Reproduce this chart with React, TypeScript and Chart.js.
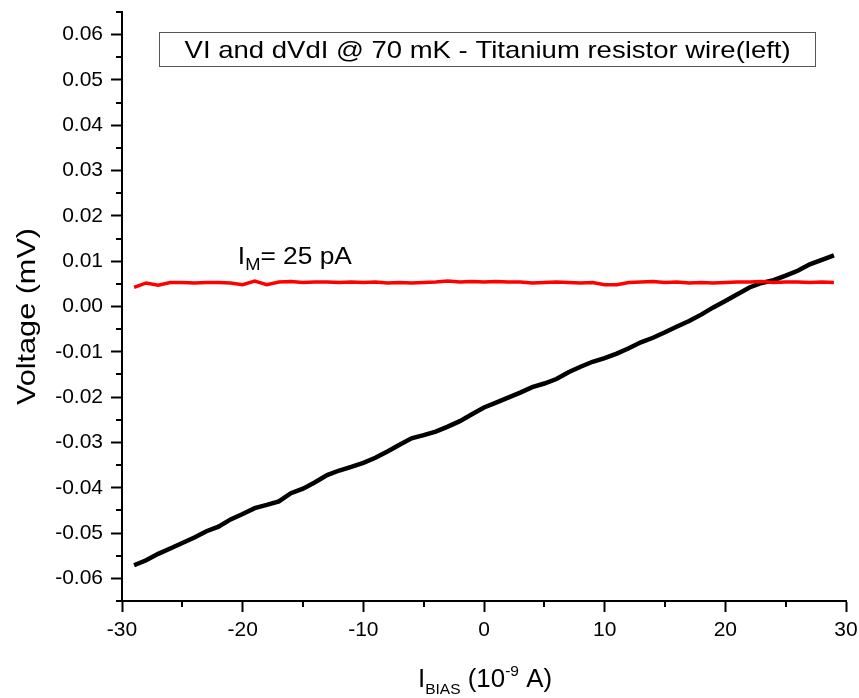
import React, { useEffect, useRef } from "react";
import { Chart, registerables } from "chart.js";

Chart.register(...registerables);

const biasCurrent = [
  -29, -28, -27, -26, -25, -24, -23, -22, -21, -20,
  -19, -18, -17, -16, -15, -14, -13, -12, -11, -10,
  -9, -8, -7, -6, -5, -4, -3, -2, -1, 0,
  1, 2, 3, 4, 5, 6, 7, 8, 9, 10,
  11, 12, 13, 14, 15, 16, 17, 18, 19, 20,
  21, 22, 23, 24, 25, 26, 27, 28, 29,
];

const viVoltage = [
  -0.0571, -0.056, -0.0546, -0.0534, -0.0522, -0.051, -0.0496, -0.0486, -0.047, -0.0458,
  -0.0445, -0.0438, -0.043, -0.0412, -0.0402, -0.0388, -0.0372, -0.0362, -0.0354, -0.0345,
  -0.0334, -0.032, -0.0305, -0.0291, -0.0284, -0.0276, -0.0265, -0.0253, -0.0238, -0.0223,
  -0.0212, -0.0201, -0.019, -0.0178, -0.017, -0.016, -0.0145, -0.0133, -0.0122, -0.0114,
  -0.0104, -0.0092, -0.0079, -0.0069, -0.0057, -0.0044, -0.0032, -0.0018, -0.0002, 0.0012,
  0.0027, 0.0042, 0.0052, 0.0058, 0.0068, 0.0079, 0.0093, 0.0103, 0.0113,
];

const dvdiVoltage = [
  0.0042, 0.0052, 0.0047, 0.0053, 0.0053, 0.0052, 0.0053, 0.0053, 0.0052, 0.0048,
  0.0056, 0.0048, 0.0054, 0.0055, 0.0053, 0.0054, 0.0054, 0.0053, 0.0054, 0.0053,
  0.0054, 0.0052, 0.0053, 0.0052, 0.0053, 0.0054, 0.0056, 0.0054, 0.0055, 0.0054,
  0.0055, 0.0054, 0.0054, 0.0052, 0.0053, 0.0054, 0.0053, 0.0052, 0.0053, 0.0048,
  0.0048, 0.0053, 0.0054, 0.0055, 0.0053, 0.0054, 0.0052, 0.0053, 0.0052, 0.0053,
  0.0054, 0.0054, 0.0055, 0.0053, 0.0054, 0.0054, 0.0053, 0.0054, 0.0053,
];

const xMajorTicks = [-30, -20, -10, 0, 10, 20, 30];
const xMinorTicks = [-25, -15, -5, 5, 15, 25];
const yMajorTicks = [-0.06, -0.05, -0.04, -0.03, -0.02, -0.01, 0, 0.01, 0.02, 0.03, 0.04, 0.05, 0.06];
const yMinorTicks = [-0.065, -0.055, -0.045, -0.035, -0.025, -0.015, -0.005, 0.005, 0.015, 0.025, 0.035, 0.045, 0.055, 0.065];

const titleText = "VI and dVdI @ 70 mK - Titanium resistor wire(left)";
const FONT = "'Liberation Sans', Arial, sans-serif";

type Part = [string, number, number];

function drawRich(ctx: CanvasRenderingContext2D, parts: Part[], x: number, y: number, targetWidth: number) {
  let total = 0;
  parts.forEach(([t, s]) => {
    ctx.font = `${s}px ${FONT}`;
    total += ctx.measureText(t).width;
  });
  const k = targetWidth / total;
  ctx.save();
  ctx.translate(x, y);
  ctx.scale(k, 1);
  ctx.textAlign = "left";
  ctx.textBaseline = "alphabetic";
  let cx = 0;
  parts.forEach(([t, s, dy]) => {
    ctx.font = `${s}px ${FONT}`;
    ctx.fillText(t, cx, dy);
    cx += ctx.measureText(t).width;
  });
  ctx.restore();
}

const overlayPlugin = {
  id: "overlay",
  afterDraw(chart: any) {
    const ctx = chart.ctx as CanvasRenderingContext2D;
    const xs = chart.scales.x;
    const ys = chart.scales.y;
    const area = chart.chartArea;
    ctx.save();
    // minor ticks
    ctx.strokeStyle = "#000";
    ctx.lineWidth = 2;
    ctx.beginPath();
    xMinorTicks.forEach((v) => {
      const px = Math.round(xs.getPixelForValue(v));
      ctx.moveTo(px, area.bottom);
      ctx.lineTo(px, area.bottom + 6);
    });
    yMinorTicks.forEach((v) => {
      const py = Math.round(ys.getPixelForValue(v));
      ctx.moveTo(area.left, py);
      ctx.lineTo(area.left - 6, py);
    });
    ctx.stroke();

    // title box
    const bx0 = xs.getPixelForValue(-26.9);
    const bx1 = xs.getPixelForValue(27.5);
    const by0 = ys.getPixelForValue(0.0605);
    const by1 = ys.getPixelForValue(0.0530);
    ctx.lineWidth = 1;
    ctx.strokeStyle = "#555";
    ctx.strokeRect(Math.round(bx0) + 0.5, Math.round(by0) + 0.5, Math.round(bx1 - bx0), Math.round(by1 - by0));
    ctx.fillStyle = "#000";
    const cxTitle = (bx0 + bx1) / 2;
    drawRich(ctx, [[titleText, 24, 0]], cxTitle - 303, (by0 + by1) / 2 + 9, 606);

    // annotation I_M = 25 pA
    const ax = xs.getPixelForValue(-20.4);
    const ay = ys.getPixelForValue(0.0093);
    drawRich(
      ctx,
      [
        ["I", 23, 0],
        ["M", 16, 6],
        ["= 25 pA", 23, 0],
      ],
      ax,
      ay,
      114
    );

    // y-axis title
    ctx.save();
    ctx.translate(35, 0);
    ctx.rotate(-Math.PI / 2);
    drawRich(ctx, [["Voltage (mV)", 25, 0]], -405, 0, 177);
    ctx.restore();

    // x-axis title I_BIAS (10^-9 A)
    drawRich(
      ctx,
      [
        ["I", 25, 0],
        ["BIAS", 15, 7],
        [" (10", 25, 0],
        ["-9", 15, -11],
        [" A)", 25, 0],
      ],
      418,
      687,
      134
    );
    ctx.restore();
  },
};

export default function App() {
  const canvasRef = useRef<HTMLCanvasElement | null>(null);

  useEffect(() => {
    document.body.style.margin = "0";
    const canvas = canvasRef.current;
    if (!canvas) return;
    const viData = biasCurrent.map((x, i) => ({ x, y: viVoltage[i] }));
    const dvdiData = biasCurrent.map((x, i) => ({ x, y: dvdiVoltage[i] }));

    const chart = new Chart(canvas, {
      type: "scatter",
      data: {
        datasets: [
          {
            label: "dV/dI",
            data: dvdiData,
            showLine: true,
            borderColor: "#ff0000",
            backgroundColor: "#ff0000",
            borderWidth: 3.5,
            pointRadius: 0,
            tension: 0,
          },
          {
            label: "VI",
            data: viData,
            showLine: true,
            borderColor: "#000000",
            backgroundColor: "#000000",
            borderWidth: 4.5,
            pointRadius: 0,
            tension: 0,
          },
        ],
      },
      options: {
        responsive: false,
        animation: false,
        devicePixelRatio: 1,
        layout: { padding: { top: 12, right: 13, left: 0, bottom: 0 } },
        plugins: {
          legend: { display: false },
          tooltip: { enabled: false },
          title: { display: false },
        },
        scales: {
          x: {
            type: "linear",
            min: -30,
            max: 30,
            afterBuildTicks: (axis: any) => {
              axis.ticks = xMajorTicks.map((v) => ({ value: v }));
            },
            afterFit: (axis: any) => {
              axis.height = 97;
              axis.paddingLeft = 0;
              axis.paddingRight = 0;
            },
            grid: {
              drawOnChartArea: false,
              drawTicks: true,
              tickLength: 11,
              tickWidth: 2,
              tickColor: "#000",
            },
            border: { display: true, color: "#000", width: 2 },
            ticks: {
              color: "#000",
              font: { family: FONT, size: 21 },
              padding: 6,
              maxRotation: 0,
              callback: (v: any) => String(v),
            },
          },
          y: {
            type: "linear",
            min: -0.065,
            max: 0.065,
            afterBuildTicks: (axis: any) => {
              axis.ticks = yMajorTicks.map((v) => ({ value: v }));
            },
            afterFit: (axis: any) => {
              axis.width = 122;
              axis.paddingTop = 0;
              axis.paddingBottom = 0;
            },
            grid: {
              drawOnChartArea: false,
              drawTicks: true,
              tickLength: 11,
              tickWidth: 2,
              tickColor: "#000",
            },
            border: { display: true, color: "#000", width: 2 },
            ticks: {
              color: "#000",
              font: { family: FONT, size: 21 },
              padding: 8,
              callback: (v: any) => Number(v).toFixed(2),
            },
          },
        },
      },
      plugins: [overlayPlugin],
    });
    return () => chart.destroy();
  }, []);

  return (
    <div style={{ position: "absolute", left: 0, top: 0, width: 859, height: 698, background: "#fff" }}>
      <canvas ref={canvasRef} width={859} height={698} />
    </div>
  );
}
